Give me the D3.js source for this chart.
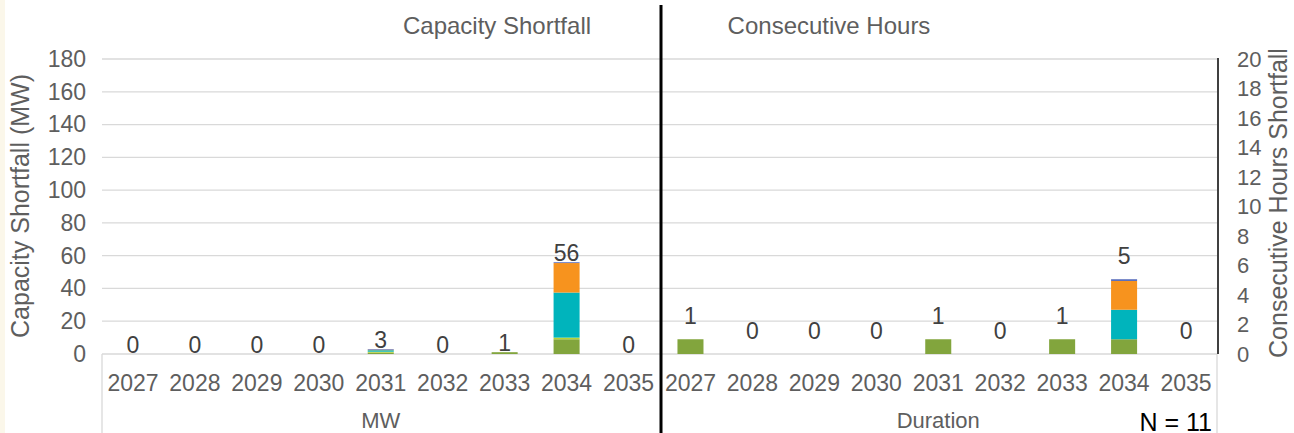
<!DOCTYPE html>
<html>
<head>
<meta charset="utf-8">
<script src="https://cdn.jsdelivr.net/npm/d3@7"></script>
<style>
  html, body { margin: 0; padding: 0; background: #fff; }
  svg { display: block; font-family: "Liberation Sans", Arial, sans-serif; }
</style>
</head>
<body>
<svg id="chart" width="1294" height="433"></svg>
<script>
// ---- data ----
const years = ["2027", "2028", "2029", "2030", "2031", "2032", "2033", "2034", "2035"];
const groups = ["MW", "Duration"];
const seriesNames = ["Green", "Lime", "Teal", "Orange", "Blue"];
const seriesColors = ["#82a53d", "#b8d336", "#00b4bc", "#f7931e", "#5b6fbd"];

// Capacity shortfall (MW), per stacked series
const mwGreen  = [0, 0, 0, 0, 0.8, 0, 1.1, 9, 0];
const mwLime   = [0, 0, 0, 0, 0.6, 0, 0, 1, 0];
const mwTeal   = [0, 0, 0, 0, 0.9, 0, 0, 27.5, 0];
const mwOrange = [0, 0, 0, 0, 0.3, 0, 0, 18, 0];
const mwBlue   = [0, 0, 0, 0, 0.4, 0, 0, 0.5, 0];
const mwLabels = [0, 0, 0, 0, 3, 0, 1, 56, 0];

// Consecutive hours shortfall, per stacked series
const hrGreen  = [1, 0, 0, 0, 1, 0, 1, 1, 0];
const hrLime   = [0, 0, 0, 0, 0, 0, 0, 0, 0];
const hrTeal   = [0, 0, 0, 0, 0, 0, 0, 2, 0];
const hrOrange = [0, 0, 0, 0, 0, 0, 0, 1.95, 0];
const hrBlue   = [0, 0, 0, 0, 0, 0, 0, 0.12, 0];
const hrLabels = [1, 0, 0, 0, 1, 0, 1, 5, 0];

const leftTicks = [0, 20, 40, 60, 80, 100, 120, 140, 160, 180];
const rightTicks = [0, 2, 4, 6, 8, 10, 12, 14, 16, 18, 20];
const titles = ["Capacity Shortfall", "Consecutive Hours"];
const leftAxisTitle = "Capacity Shortfall (MW)";
const rightAxisTitle = "Consecutive Hours Shortfall";
const noteText = "N = 11";

// ---- layout ----
const svg = d3.select("#chart");
const W = 1294, H = 433;
const plotL = 102, plotR = 1217, plotT = 59, plotB = 354;
const grey = "#5e5e5e";

// faint left strip
svg.append("rect").attr("x", 0).attr("y", 0).attr("width", 5).attr("height", H).attr("fill", "#fbf7ea");

const keys = [];
groups.forEach(g => years.forEach(y => keys.push(g + "|" + y)));

const x = d3.scaleBand().domain(keys).range([plotL, plotR]).paddingInner(0.58).paddingOuter(0.29);
const yL = d3.scaleLinear().domain([0, 180]).range([plotB, plotT]);
const yR = d3.scaleLinear().domain([0, 20]).range([plotB, plotT]);

// gridlines
svg.append("g").selectAll("line").data(leftTicks).join("line")
  .attr("x1", plotL).attr("x2", plotR)
  .attr("y1", d => yL(d)).attr("y2", d => yL(d))
  .attr("stroke", "#d9d9d9").attr("stroke-width", 1.3);

// category axis frame lines
svg.append("line").attr("x1", plotL).attr("x2", plotL).attr("y1", plotB).attr("y2", H).attr("stroke", "#d9d9d9").attr("stroke-width", 1.3);
svg.append("line").attr("x1", plotR).attr("x2", plotR).attr("y1", plotB).attr("y2", H).attr("stroke", "#d9d9d9").attr("stroke-width", 1.3);

// stacked bars
function buildRows(group, arrs) {
  return years.map((yr, i) => {
    const row = { key: group + "|" + yr };
    seriesNames.forEach((s, j) => row[s] = arrs[j][i]);
    return row;
  });
}
const mwRows = buildRows("MW", [mwGreen, mwLime, mwTeal, mwOrange, mwBlue]);
const hrRows = buildRows("Duration", [hrGreen, hrLime, hrTeal, hrOrange, hrBlue]);
const stack = d3.stack().keys(seriesNames);

function drawStack(rows, yScale) {
  const layers = stack(rows);
  svg.append("g").selectAll("g").data(layers).join("g")
    .attr("fill", (d, i) => seriesColors[i])
    .selectAll("rect").data(d => d).join("rect")
    .attr("x", d => x(d.data.key))
    .attr("width", x.bandwidth())
    .attr("y", d => yScale(d[1]))
    .attr("height", d => Math.max(0, yScale(d[0]) - yScale(d[1])));
}
drawStack(mwRows, yL);
drawStack(hrRows, yR);

// data labels
const mwTotals = mwRows.map(r => seriesNames.reduce((a, s) => a + r[s], 0));
const hrTotals = hrRows.map(r => seriesNames.reduce((a, s) => a + r[s], 0));
svg.append("g").selectAll("text").data(years).join("text")
  .attr("x", (d) => x("MW|" + d) + x.bandwidth() / 2)
  .attr("y", (d, i) => yL(mwTotals[i]) - 1.5)
  .attr("text-anchor", "middle").attr("font-size", 23).attr("fill", "#404040")
  .text((d, i) => mwLabels[i]);
svg.append("g").selectAll("text").data(years).join("text")
  .attr("x", (d) => x("Duration|" + d) + x.bandwidth() / 2)
  .attr("y", (d, i) => yR(hrTotals[i]) - 15.5)
  .attr("text-anchor", "middle").attr("font-size", 23).attr("fill", "#404040")
  .text((d, i) => hrLabels[i]);

// left axis
const gl = svg.append("g").attr("transform", `translate(${plotL - 16},0)`)
  .call(d3.axisLeft(yL).tickValues(leftTicks).tickSize(0).tickPadding(0));
gl.select(".domain").remove();
gl.selectAll("text").attr("font-size", 23).attr("fill", grey).attr("font-family", "Liberation Sans, Arial, sans-serif");

// right axis
const gr = svg.append("g").attr("transform", `translate(${plotR + 20},0)`)
  .call(d3.axisRight(yR).tickValues(rightTicks).tickSize(0).tickPadding(0));
gr.select(".domain").remove();
gr.selectAll("text").attr("font-size", 22).attr("fill", grey).attr("font-family", "Liberation Sans, Arial, sans-serif");

// right axis black line
svg.append("line").attr("x1", plotR + 1).attr("x2", plotR + 1).attr("y1", yR(20) - 1).attr("y2", plotB)
  .attr("stroke", "#000").attr("stroke-width", 1.5);

// category labels (years)
svg.append("g").selectAll("text").data(keys).join("text")
  .attr("x", d => x(d) + x.bandwidth() / 2)
  .attr("y", 391)
  .attr("text-anchor", "middle").attr("font-size", 23).attr("fill", grey)
  .text(d => d.split("|")[1]);

// group labels
const mid = (plotL + plotR) / 2;
svg.append("g").selectAll("text").data(groups).join("text")
  .attr("x", (d, i) => i === 0 ? (plotL + mid) / 2 : (mid + plotR) / 2)
  .attr("y", 428)
  .attr("text-anchor", "middle").attr("font-size", 22).attr("fill", grey)
  .text(d => d);

// axis titles
svg.append("text").attr("transform", `translate(29,206) rotate(-90)`)
  .attr("text-anchor", "middle").attr("font-size", 25).attr("fill", grey).text(leftAxisTitle);
svg.append("text").attr("transform", `translate(1287,203) rotate(-90)`)
  .attr("text-anchor", "middle").attr("font-size", 25).attr("fill", grey).text(rightAxisTitle);

// top titles
svg.append("text").attr("x", 497).attr("y", 34).attr("text-anchor", "middle")
  .attr("font-size", 24).attr("fill", grey).text(titles[0]);
svg.append("text").attr("x", 829).attr("y", 34).attr("text-anchor", "middle")
  .attr("font-size", 24).attr("fill", grey).text(titles[1]);

// divider
svg.append("line").attr("x1", mid + 1.5).attr("x2", mid + 1.5).attr("y1", 5).attr("y2", H)
  .attr("stroke", "#000").attr("stroke-width", 3);

// note
svg.append("text").attr("x", 1212).attr("y", 431).attr("text-anchor", "end")
  .attr("font-size", 25).attr("fill", "#000").text(noteText);
</script>
</body>
</html>
